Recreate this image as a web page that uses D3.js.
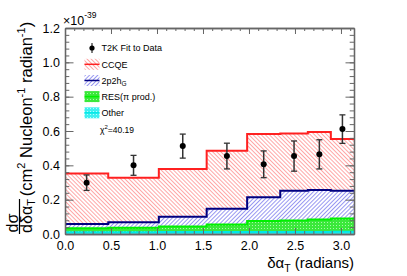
<!DOCTYPE html>
<html>
<head>
<meta charset="utf-8">
<script src="https://cdn.jsdelivr.net/npm/d3@7"></script>
<style>
  body { margin: 0; background: #fff; }
  text { font-family: "Liberation Sans", Arial, sans-serif; fill: #000; }
</style>
</head>
<body>
<script>
var width = 407, height = 276;

// bin edges (radians) and stacked histogram tops
var binEdges = [0, 0.47, 1.02, 1.54, 1.98, 2.34, 2.64, 2.89, 3.1416];
var ccqeTop  = [0.353, 0.328, 0.379, 0.485, 0.582, 0.586, 0.594, 0.553];
var p2h2Top  = [0.058, 0.068, 0.101, 0.147, 0.214, 0.252, 0.256, 0.252];
var resTop   = [0.033, 0.037, 0.043, 0.056, 0.076, 0.078, 0.085, 0.091];
var otherTop = [0.010, 0.010, 0.011, 0.011, 0.012, 0.012, 0.012, 0.013];

// T2K data
var dataY   = [0.299, 0.400, 0.512, 0.454, 0.406, 0.454, 0.464, 0.611];
var dataErr = [0.045, 0.058, 0.070, 0.075, 0.078, 0.088, 0.085, 0.083];

var xTicks = [0, 0.5, 1.0, 1.5, 2.0, 2.5, 3.0];
var yTicks = [0, 0.2, 0.4, 0.6, 0.8, 1.0, 1.2];

var legendLabels = ["T2K Fit to Data", "CCQE", "2p2h", "RES(\u03c0 prod.)", "Other"];

var x = d3.scaleLinear().domain([0, 3.1416]).range([65, 354]);
var y = d3.scaleLinear().domain([0, 1.2]).range([234, 28]);

var svg = d3.select("body").append("svg")
    .attr("width", width)
    .attr("height", height);

var defs = svg.append("defs");

function hatch(id, color, angle) {
    var p = defs.append("pattern")
        .attr("id", id)
        .attr("patternUnits", "userSpaceOnUse")
        .attr("width", 10).attr("height", 2.9)
        .attr("patternTransform", "rotate(" + angle + ")");
    p.append("line")
        .attr("x1", 0).attr("y1", 0.5).attr("x2", 10).attr("y2", 0.5)
        .attr("stroke", color).attr("stroke-width", 0.9);
}
hatch("hRed", "#ff9a9a", 45);
hatch("hBlue", "#8a8af0", -45);

function dots(id, base, dot) {
    var p = defs.append("pattern")
        .attr("id", id)
        .attr("patternUnits", "userSpaceOnUse")
        .attr("width", 3).attr("height", 3);
    p.append("rect").attr("width", 3).attr("height", 3).attr("fill", base);
    p.append("rect").attr("width", 1).attr("height", 1).attr("fill", dot);
}
dots("dGreen", "#3be83b", "#a8f8a8");
dots("dCyan", "#3ef0f0", "#b0ffff");

function stepPts(vals) {
    var pts = vals.map(function(v, i) { return [binEdges[i], v]; });
    pts.push([binEdges[binEdges.length - 1], vals[vals.length - 1]]);
    return pts;
}

var line = d3.line()
    .x(function(d) { return x(d[0]); })
    .y(function(d) { return y(d[1]); })
    .curve(d3.curveStepAfter);

function band(top, bottom) {
    var pts = stepPts(top).map(function(p, i) {
        var b = bottom ? (i < bottom.length ? bottom[i] : bottom[bottom.length - 1]) : 0;
        return [p[0], p[1], b];
    });
    return d3.area()
        .x(function(d) { return x(d[0]); })
        .y0(function(d) { return y(d[2]); })
        .y1(function(d) { return y(d[1]); })
        .curve(d3.curveStepAfter)(pts);
}

var layers = [
    {top: ccqeTop,  bottom: p2h2Top, fill: "url(#hRed)",   stroke: "#ff2020"},
    {top: p2h2Top,  bottom: resTop,  fill: "url(#hBlue)",  stroke: "#000080"},
    {top: resTop,   bottom: otherTop, fill: "url(#dGreen)", stroke: "#00f000"},
    {top: otherTop, bottom: null,    fill: "url(#dCyan)",  stroke: "#00e8e8"}
];

layers.forEach(function(l) {
    svg.append("path").attr("d", band(l.top, l.bottom)).attr("fill", l.fill);
});
layers.forEach(function(l) {
    svg.append("path").attr("d", line(stepPts(l.top)))
        .attr("fill", "none").attr("stroke", l.stroke).attr("stroke-width", 2);
});

// axes
var minorX = d3.range(0, 3.15, 0.1);
var minorY = d3.range(0, 1.201, 0.04);

function styleAxis(g) {
    g.selectAll("path.domain").attr("stroke", "#666").attr("stroke-width", 1.3);
    g.selectAll(".tick line").attr("stroke", "#666").attr("stroke-width", 1);
    g.selectAll("text").attr("fill", "#000").style("font-size", "12.5px")
        .style("font-family", "Liberation Sans, Arial, sans-serif");
}

svg.append("g").attr("transform", "translate(0,234)")
    .call(d3.axisBottom(x).tickValues(xTicks).tickSize(-6).tickSizeOuter(0)
        .tickPadding(7).tickFormat(d3.format(".1f")))
    .call(styleAxis);
svg.append("g").attr("transform", "translate(0,234)")
    .call(d3.axisBottom(x).tickValues(minorX).tickSize(-3).tickSizeOuter(0).tickFormat(""))
    .call(styleAxis);
svg.append("g").attr("transform", "translate(0,28)")
    .call(d3.axisTop(x).tickValues(xTicks).tickSize(-6).tickSizeOuter(0).tickFormat(""))
    .call(styleAxis);
svg.append("g").attr("transform", "translate(0,28)")
    .call(d3.axisTop(x).tickValues(minorX).tickSize(-3).tickSizeOuter(0).tickFormat(""))
    .call(styleAxis);

svg.append("g").attr("transform", "translate(65,0)")
    .call(d3.axisLeft(y).tickValues(yTicks).tickSize(-8.5).tickSizeOuter(0)
        .tickPadding(5).tickFormat(d3.format(".1f")))
    .call(styleAxis);
svg.append("g").attr("transform", "translate(65,0)")
    .call(d3.axisLeft(y).tickValues(minorY).tickSize(-4.3).tickSizeOuter(0).tickFormat(""))
    .call(styleAxis);
svg.append("g").attr("transform", "translate(354,0)")
    .call(d3.axisRight(y).tickValues(yTicks).tickSize(-8.5).tickSizeOuter(0).tickFormat(""))
    .call(styleAxis);
svg.append("g").attr("transform", "translate(354,0)")
    .call(d3.axisRight(y).tickValues(minorY).tickSize(-4.3).tickSizeOuter(0).tickFormat(""))
    .call(styleAxis);

// data points
var centers = dataY.map(function(v, i) { return (binEdges[i] + binEdges[i + 1]) / 2; });
var pts = svg.append("g").selectAll("g").data(dataY).enter().append("g");
pts.append("line")
    .attr("x1", function(d, i) { return x(centers[i]); })
    .attr("x2", function(d, i) { return x(centers[i]); })
    .attr("y1", function(d, i) { return y(d - dataErr[i]); })
    .attr("y2", function(d, i) { return y(d + dataErr[i]); })
    .attr("stroke", "#333").attr("stroke-width", 1.5);
[-1, 1].forEach(function(s) {
    pts.append("line")
        .attr("x1", function(d, i) { return x(centers[i]) - 3; })
        .attr("x2", function(d, i) { return x(centers[i]) + 3; })
        .attr("y1", function(d, i) { return y(d + s * dataErr[i]); })
        .attr("y2", function(d, i) { return y(d + s * dataErr[i]); })
        .attr("stroke", "#333").attr("stroke-width", 1.3);
});
pts.append("circle")
    .attr("cx", function(d, i) { return x(centers[i]); })
    .attr("cy", function(d) { return y(d); })
    .attr("r", 3).attr("fill", "#000");

// legend
var legY = [48, 64.3, 80.5, 96.6, 112.8];
var leg = svg.append("g").style("font-size", "9px");
leg.append("line").attr("x1", 92).attr("x2", 92).attr("y1", legY[0] - 5).attr("y2", legY[0] + 5)
    .attr("stroke", "#000").attr("stroke-width", 1);
leg.append("circle").attr("cx", 92).attr("cy", legY[0]).attr("r", 2.6).attr("fill", "#000");
var boxFills = [null, "url(#hRed)", "url(#hBlue)", "url(#dGreen)", "url(#dCyan)"];
var boxLines = [null, "#ff2020", "#000080", "#00f000", "#00e8e8"];
legendLabels.forEach(function(lab, i) {
    if (i > 0) {
        leg.append("rect").attr("x", 84.5).attr("y", legY[i] - 5.5).attr("width", 15).attr("height", 11)
            .attr("fill", boxFills[i]);
        leg.append("line").attr("x1", 84.5).attr("x2", 99.5).attr("y1", legY[i]).attr("y2", legY[i])
            .attr("stroke", boxLines[i]).attr("stroke-width", 1.5);
    }
    var t = leg.append("text").attr("x", 101.5).attr("y", legY[i] + 3.3).text(lab);
    if (i === 2) {
        t.append("tspan").attr("font-size", "6.5px").attr("dy", 2.5).text("G");
    }
});
var chi = svg.append("text").attr("x", 100).attr("y", 132.5).style("font-size", "8.5px");
chi.append("tspan").text("\u03c7");
chi.append("tspan").attr("font-size", "6px").attr("dy", -3.5).text("2");
chi.append("tspan").attr("dy", 3.5).text("=40.19");

// exponent label
var exp = svg.append("text").attr("x", 63).attr("y", 25).style("font-size", "12.5px").attr("fill", "#222");
exp.append("tspan").text("\u00d710");
exp.append("tspan").attr("font-size", "8.5px").attr("dy", -7).text("-39");

// x title
var xt = svg.append("text").attr("x", 354).attr("y", 268).attr("text-anchor", "end")
    .style("font-size", "15px");
xt.append("tspan").text("\u03b4\u03b1");
xt.append("tspan").attr("font-size", "10.5px").attr("dy", 3.5).text("T");
xt.append("tspan").attr("dy", -3.5).text(" (radians)");

// y title
var yt = svg.append("g").attr("transform", "rotate(-90)");
yt.append("text").attr("x", -223).attr("y", 17.5).attr("text-anchor", "middle")
    .style("font-size", "16px").text("d\u03c3");
var den = yt.append("text").attr("x", -216).attr("y", 31.5).attr("text-anchor", "middle")
    .style("font-size", "16px");
den.append("tspan").text("d\u03b4\u03b1");
den.append("tspan").attr("font-size", "11px").attr("dy", 3.5).text("T");
svg.append("line").attr("x1", 19.5).attr("x2", 19.5).attr("y1", 199).attr("y2", 234)
    .attr("stroke", "#000").attr("stroke-width", 1.2);
var unit = yt.append("text").attr("x", -109).attr("y", 31.5).attr("text-anchor", "middle")
    .style("font-size", "16.5px");
unit.append("tspan").text("(cm");
unit.append("tspan").attr("font-size", "11px").attr("dy", -7).text("2");
unit.append("tspan").attr("dy", 7).text(" Nucleon");
unit.append("tspan").attr("font-size", "11px").attr("dy", -7).text("-1");
unit.append("tspan").attr("dy", 7).text(" radian");
unit.append("tspan").attr("font-size", "11px").attr("dy", -7).text("-1");
unit.append("tspan").attr("dy", 7).text(")");
</script>
</body>
</html>
